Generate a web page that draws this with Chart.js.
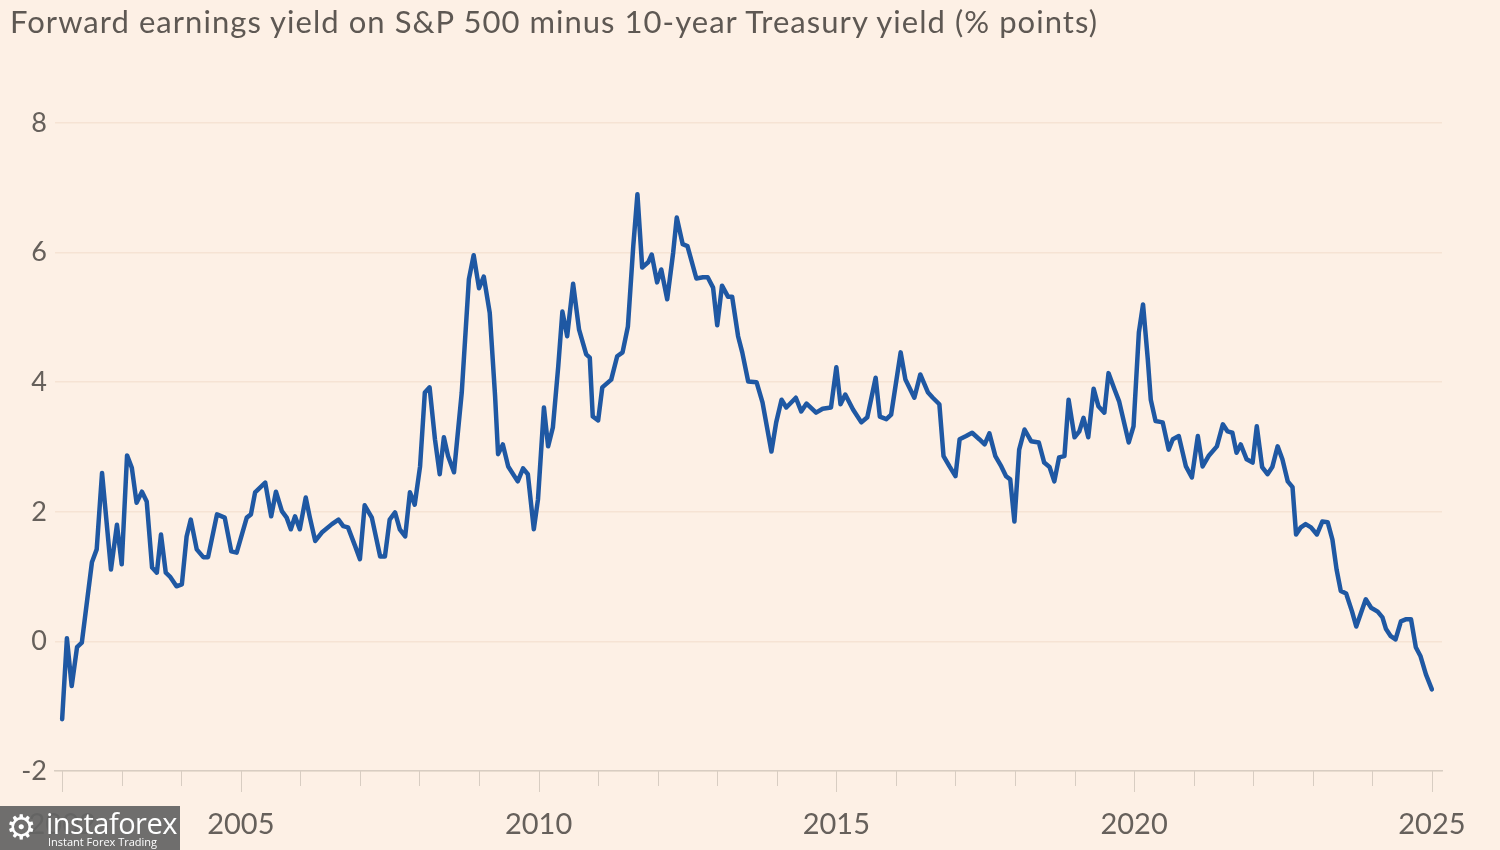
<!DOCTYPE html>
<html>
<head>
<meta charset="utf-8">
<script src="https://cdn.jsdelivr.net/npm/chart.js@4.4.1/dist/chart.umd.min.js"></script>
<style>
  html, body { margin: 0; padding: 0; background: #fdf0e5; }
  #wrap { position: relative; width: 1500px; height: 850px; overflow: hidden; background: #fdf0e5; }
  #title { position: absolute; left: 10px; top: 2px; font-family: Lato, "Noto Sans", sans-serif; font-size: 31px; color: #5e5853; white-space: nowrap; }
  canvas { position: absolute; left: 0; top: 0; }
  #wm { position: absolute; left: 0; top: 806px; width: 180px; height: 44px; background: rgba(100,100,100,0.93); color: #fff; font-family: "Open Sans", sans-serif; }
  #wm .ic { position: absolute; left: 6px; top: 2px; font-size: 34px; line-height: 38px; font-family: "DejaVu Sans", sans-serif; }
  #wm .nm { position: absolute; left: 46px; top: 0px; font-size: 29px; line-height: 34px; letter-spacing: -0.5px; }
  #wm .sb { position: absolute; left: 48px; top: 29px; font-size: 11px; line-height: 13px; }
</style>
</head>
<body>
<div id="wrap">
  <canvas id="c" width="1500" height="850"></canvas>
  <div id="title">Forward earnings yield on S&amp;P 500 minus 10-year Treasury yield (% points)</div>
  <div id="wm"><span class="ic">⚙</span><span class="nm">instaforex</span><span class="sb">Instant Forex Trading</span></div>
</div>
<script>
// Time (fractional years) and spread values (% points)
const dates = [
  2002.00,2002.08,2002.16,2002.25,2002.33,2002.50,2002.58,2002.67,2002.82,2002.92,
  2003.00,2003.09,2003.17,2003.25,2003.34,2003.42,2003.51,2003.59,2003.66,2003.74,2003.81,2003.92,
  2004.01,2004.09,2004.16,2004.26,2004.37,2004.45,2004.60,2004.73,2004.84,2004.93,
  2005.10,2005.17,2005.24,2005.41,2005.51,2005.59,2005.69,2005.77,2005.84,2005.91,2005.99,
  2006.09,2006.16,2006.25,2006.36,2006.53,2006.64,2006.72,2006.80,2006.92,
  2007.00,2007.08,2007.20,2007.34,2007.42,2007.50,2007.59,2007.67,2007.76,2007.84,2007.92,
  2008.01,2008.09,2008.17,2008.26,2008.34,2008.41,2008.48,2008.58,2008.71,2008.83,2008.91,
  2009.00,2009.08,2009.18,2009.27,2009.32,2009.40,2009.49,2009.65,2009.74,2009.82,2009.92,2009.99,
  2010.09,2010.16,2010.24,2010.33,2010.40,2010.48,2010.58,2010.68,2010.80,2010.86,2010.91,
  2011.00,2011.07,2011.22,2011.32,2011.41,2011.50,2011.59,2011.66,2011.74,2011.84,2011.90,2011.99,
  2012.06,2012.16,2012.26,2012.32,2012.42,2012.50,2012.65,2012.76,2012.84,2012.93,
  2013.00,2013.08,2013.18,2013.25,2013.35,2013.42,2013.52,2013.66,2013.76,2013.91,2013.99,
  2014.08,2014.16,2014.32,2014.41,2014.50,2014.66,2014.77,2014.91,
  2015.00,2015.07,2015.15,2015.28,2015.42,2015.52,2015.66,2015.73,2015.84,2015.92,
  2016.08,2016.16,2016.31,2016.41,2016.54,2016.62,2016.73,2016.80,2016.90,
  2017.00,2017.07,2017.18,2017.28,2017.40,2017.49,2017.57,2017.67,2017.77,2017.85,2017.92,2017.99,
  2018.07,2018.16,2018.27,2018.40,2018.49,2018.58,2018.66,2018.74,2018.83,2018.90,
  2019.00,2019.08,2019.15,2019.23,2019.32,2019.40,2019.50,2019.57,2019.67,2019.75,2019.91,2019.99,
  2020.08,2020.15,2020.23,2020.28,2020.36,2020.48,2020.58,2020.65,2020.75,2020.87,2020.97,
  2021.07,2021.15,2021.25,2021.39,2021.49,2021.57,2021.65,2021.72,2021.79,2021.89,2021.99,
  2022.06,2022.15,2022.24,2022.32,2022.41,2022.49,2022.58,2022.66,2022.72,2022.80,2022.88,2022.97,
  2023.07,2023.16,2023.25,2023.33,2023.40,2023.47,2023.56,2023.66,2023.73,2023.89,2023.98,
  2024.09,2024.17,2024.23,2024.31,2024.39,2024.48,2024.56,2024.65,2024.73,2024.81,2024.90,2025.00
];
const spread = [
  -1.20,0.05,-0.69,-0.09,-0.02,1.22,1.42,2.60,1.11,1.80,
  1.19,2.87,2.68,2.14,2.31,2.16,1.14,1.06,1.65,1.06,1.00,0.85,
  0.88,1.62,1.88,1.42,1.30,1.30,1.96,1.91,1.39,1.37,
  1.91,1.96,2.30,2.45,1.93,2.31,2.01,1.91,1.73,1.93,1.73,
  2.22,1.91,1.55,1.68,1.81,1.88,1.78,1.76,1.47,
  1.27,2.10,1.91,1.31,1.31,1.88,1.99,1.73,1.62,2.30,2.11,
  2.70,3.84,3.92,3.12,2.58,3.15,2.86,2.61,3.84,5.59,5.96,
  5.45,5.63,5.07,3.78,2.89,3.04,2.70,2.47,2.67,2.58,1.73,2.19,
  3.61,3.01,3.30,4.24,5.09,4.71,5.52,4.81,4.43,4.38,3.47,
  3.41,3.92,4.04,4.40,4.46,4.86,6.10,6.90,5.77,5.85,5.97,5.54,
  5.74,5.28,6.00,6.54,6.13,6.10,5.60,5.62,5.62,5.46,
  4.88,5.49,5.32,5.32,4.71,4.46,4.01,4.00,3.69,2.93,3.38,
  3.73,3.61,3.76,3.55,3.67,3.53,3.59,3.61,
  4.23,3.66,3.81,3.58,3.38,3.46,4.07,3.47,3.43,3.50,
  4.46,4.04,3.76,4.12,3.84,3.76,3.66,2.86,2.70,
  2.55,3.12,3.17,3.22,3.12,3.04,3.21,2.86,2.70,2.55,2.50,1.85,
  2.96,3.27,3.09,3.07,2.76,2.69,2.47,2.84,2.86,3.73,
  3.15,3.24,3.45,3.15,3.90,3.63,3.53,4.14,3.89,3.70,3.07,3.32,
  4.77,5.20,4.35,3.73,3.40,3.38,2.96,3.12,3.17,2.70,2.53,
  3.17,2.70,2.86,3.01,3.35,3.24,3.22,2.91,3.04,2.81,2.76,
  3.32,2.69,2.58,2.69,3.01,2.81,2.47,2.38,1.65,1.76,1.81,1.76,
  1.65,1.85,1.84,1.57,1.11,0.78,0.74,0.46,0.23,0.65,0.52,
  0.46,0.37,0.19,0.08,0.03,0.31,0.34,0.34,-0.09,-0.23,-0.51,-0.74
];
const tickYears = [2002,2003,2004,2005,2006,2007,2008,2009,2010,2011,2012,2013,2014,2015,2016,2017,2018,2019,2020,2021,2022,2023,2024,2025];
const labelYears = [2002,2005,2010,2015,2020,2025];
const yTicks = [-2,0,2,4,6,8];

// stretch title to the reference's width via letter-spacing
(function fitTitle() {
  const t = document.getElementById('title');
  const target = 1088;
  const w = t.getBoundingClientRect().width;
  const n = t.textContent.length;
  t.style.letterSpacing = ((target - w) / n).toFixed(2) + 'px';
})();

const points = dates.map((d, i) => ({ x: d, y: spread[i] }));

const yearTickMarks = {
  id: 'yearTickMarks',
  afterDraw(chart) {
    const xs = chart.scales.x;
    const ctx = chart.ctx;
    ctx.save();
    ctx.strokeStyle = '#d8cdc2';
    ctx.lineWidth = 1;
    tickYears.forEach(v => {
      const px = Math.round(xs.getPixelForValue(v)) + 0.5;
      const len = labelYears.includes(v) ? 21 : 15;
      ctx.beginPath();
      ctx.moveTo(px, xs.top);
      ctx.lineTo(px, xs.top + len);
      ctx.stroke();
    });
    ctx.restore();
  }
};

new Chart(document.getElementById('c'), {
  type: 'line',
  data: {
    datasets: [{
      data: points,
      borderColor: '#1f58a3',
      borderWidth: 4.5,
      pointRadius: 0,
      tension: 0,
      borderJoinStyle: 'round',
      borderCapStyle: 'round',
      fill: false
    }]
  },
  options: {
    responsive: false,
    animation: false,
    devicePixelRatio: 1,
    layout: { padding: { left: 0, top: 123, right: 58, bottom: 0 } },
    plugins: { legend: { display: false }, tooltip: { enabled: false } },
    scales: {
      x: {
        type: 'linear',
        min: 2001.88,
        max: 2025.17,
        afterFit(s) { s.height = 79; s.paddingLeft = 0; s.paddingRight = 0; },
        afterBuildTicks(s) { s.ticks = tickYears.map(v => ({ value: v })); },
        grid: { drawOnChartArea: false, drawTicks: false },
        border: { display: true, color: '#d8cdc2', width: 1.5 },
        ticks: {
          autoSkip: false,
          maxRotation: 0,
          padding: 36,
          color: '#66605b',
          font: { family: 'Lato, "Noto Sans", sans-serif', size: 29 },
          callback: v => labelYears.includes(v) ? String(v) : ''
        }
      },
      y: {
        min: -2,
        max: 8,
        afterFit(s) { s.width = 55; s.paddingTop = 0; s.paddingBottom = 0; },
        afterBuildTicks(s) { s.ticks = yTicks.map(v => ({ value: v })); },
        grid: { color: '#f6e3d4', lineWidth: 1.5, drawTicks: false },
        border: { display: false },
        ticks: {
          padding: 8,
          color: '#66605b',
          font: { family: 'Lato, "Noto Sans", sans-serif', size: 27 },
          callback: v => String(v)
        }
      }
    }
  },
  plugins: [yearTickMarks]
});
</script>
</body>
</html>
